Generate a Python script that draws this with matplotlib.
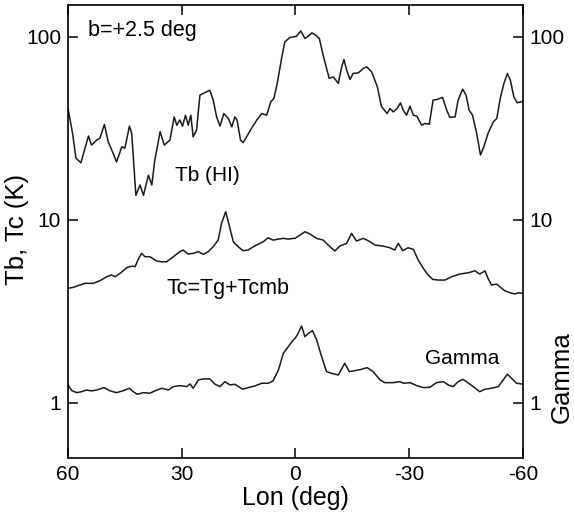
# Tb(HI), continuum Tc and gamma-ray profiles along longitude at b=+2.5 deg

import numpy as np
import matplotlib.pyplot as plt

plt.rcParams["font.family"] = ["Liberation Sans", "DejaVu Sans"]

# HI brightness temperature (K)
tb_lon = [60.0, 58.8, 57.9, 56.6, 55.8, 54.6, 53.8, 52.4, 51.6, 50.4, 49.4, 48.1,
          47.2, 45.8, 45.0, 43.8, 43.2, 42.1, 41.0, 40.1, 38.8, 37.9, 37.1, 35.7,
          34.6, 33.1, 32.0, 31.3, 30.5, 29.8, 29.0, 28.3, 27.6, 27.0, 26.1, 25.2,
          24.3, 22.6, 21.7, 20.8, 19.9, 18.9, 17.7, 16.8, 16.0, 15.4, 14.5, 13.8,
          12.9, 11.6, 10.2, 8.9, 7.6, 6.5, 5.7, 4.8, 3.6, 2.8, 1.5, 0.6,
          -0.3, -1.4, -2.5, -3.4, -4.3, -5.1, -6.3, -7.3, -8.9, -10.0, -11.3, -12.2,
          -12.8, -13.5, -14.4, -15.2, -16.6, -17.9, -18.8, -20.1, -21.6, -22.7, -24.2,
          -24.9, -25.8, -26.8, -27.7, -28.4, -29.3, -30.2, -31.1, -32.0, -33.3, -34.1,
          -35.3, -36.3, -37.4, -38.8, -39.9, -40.7, -42.1, -42.9, -44.1, -45.0, -45.8,
          -46.7, -47.8, -48.8, -49.7, -50.8, -52.2, -53.1, -54.1, -55.0, -55.9, -56.7,
          -57.6, -58.5, -59.7, -60.0]
tb_val = [40.6, 29.7, 21.7, 20.5, 23.5, 28.7, 25.6, 27.3, 27.9, 33.2, 26.7, 23.1,
          20.7, 25.1, 24.6, 32.5, 29.7, 13.6, 15.5, 13.6, 17.5, 15.5, 21.2, 30.3,
          25.6, 27.3, 36.5, 32.9, 35.1, 32.5, 37.3, 32.9, 37.3, 28.4, 30.9, 48.0,
          49.1, 51.1, 45.1, 36.5, 32.5, 38.1, 35.8, 32.2, 36.5, 35.1, 27.3, 26.4,
          28.4, 31.6, 35.1, 38.1, 37.3, 44.2, 46.1, 55.7, 77.7, 93.9, 99.2, 100.0,
          100.9, 107.8, 98.0, 100.9, 105.2, 103.1, 98.0, 79.4, 59.3, 60.4, 55.7, 68.6,
          75.2, 65.8, 58.5, 63.1, 63.6, 67.2, 68.6, 64.4, 53.3, 41.5, 38.1,
          40.6, 38.9, 40.6, 43.6, 39.8, 37.3, 41.8, 37.3, 36.9, 32.9, 33.6,
          33.3, 45.1, 45.5, 46.7, 39.8, 36.3, 36.5, 45.1, 51.8, 48.0, 39.8,
          37.3, 29.7, 22.6, 25.1, 29.7, 34.3, 35.8, 47.0, 55.7, 63.1, 58.0,
          47.0, 43.6, 44.2, 44.5]

# continuum temperature Tc = Tg + Tcmb (K)
tc_lon = [60.0, 58.6, 56.8, 55.5, 53.3, 51.6, 49.8, 48.5, 47.6, 46.3, 44.5, 43.2,
          42.3, 41.5, 40.6, 39.7, 38.4, 36.6, 35.3, 34.0, 32.2, 30.5, 29.6, 28.3,
          27.0, 25.6, 24.3, 23.0, 21.7, 20.4, 19.5, 18.4, 17.5, 16.4, 15.1, 13.8,
          12.5, 11.1, 9.8, 8.5, 7.2, 5.9, 4.5, 3.2, 1.9, 0.6, 0.1, -1.2, -2.5,
          -3.8, -5.6, -7.3, -9.1, -10.4, -11.7, -13.5, -14.8, -16.1, -17.9, -19.2,
          -21.0, -23.1, -24.9, -26.2, -27.1, -28.3, -29.7, -31.1, -32.4, -33.7,
          -35.0, -36.2, -37.6, -39.4, -41.2, -43.4, -45.6, -47.3, -48.6, -50.0,
          -50.8, -51.7, -53.1, -54.1, -55.2, -56.6, -57.9, -58.8, -59.7]
tc_val = [4.22, 4.27, 4.40, 4.49, 4.49, 4.64, 4.88, 4.99, 4.88, 5.09, 5.47, 5.58,
          5.54, 6.07, 6.55, 6.28, 6.28, 5.95, 5.89, 5.89, 6.28, 6.69, 6.83, 6.49,
          6.55, 6.69, 6.47, 6.69, 7.12, 7.74, 9.56, 11.06, 9.35, 7.58, 7.12, 6.77,
          6.83, 7.12, 7.36, 7.58, 7.97, 7.74, 7.84, 7.91, 7.84, 7.91, 7.91, 8.25, 8.60,
          8.36, 7.91, 7.74, 7.12, 6.75, 7.18, 7.43, 8.43, 7.65, 7.91, 7.68,
          7.27, 7.18, 7.03, 6.83, 7.43, 6.77, 7.03, 6.89, 6.02, 5.43,
          4.99, 4.72, 4.68, 4.68, 4.88, 5.05, 5.13, 5.26, 5.05, 5.25,
          4.78, 4.40, 4.45, 4.27, 4.09, 3.99, 3.93, 3.99, 3.96]

# gamma-ray intensity (relative)
gm_lon = [60.0, 59.0, 57.7, 56.4, 55.1, 53.8, 52.4, 50.5, 48.9, 47.2, 45.4, 43.8,
          42.8, 41.7, 40.1, 38.4, 37.1, 35.3, 33.5, 32.2, 30.5, 28.7, 27.8, 27.0,
          25.6, 24.3, 22.6, 21.2, 19.9, 18.6, 17.3, 16.0, 13.9, 12.5, 10.7, 8.9,
          7.2, 5.9, 4.5, 3.2, 1.9, 0.6, 0.1, -0.7, -1.6, -2.5, -3.4, -4.5, -5.6,
          -6.9, -8.2, -9.5, -11.3, -13.0, -14.2, -15.7, -17.4, -18.9, -20.5, -22.3,
          -23.6, -25.8, -27.5, -28.6, -30.2, -32.0, -33.7, -35.5, -37.2, -39.0,
          -40.3, -41.6, -42.9, -44.1, -45.1, -46.9, -48.6, -50.0, -51.7, -53.5,
          -54.8, -55.9, -57.0, -58.3, -59.7]
gm_val = [1.25, 1.163, 1.134, 1.148, 1.173, 1.159, 1.173, 1.208, 1.159, 1.134, 1.163, 1.198,
          1.148, 1.111, 1.134, 1.126, 1.159, 1.198, 1.173, 1.223, 1.239, 1.223, 1.265, 1.198,
          1.331, 1.348, 1.348, 1.26, 1.223, 1.302, 1.25, 1.26, 1.184, 1.208, 1.234, 1.276,
          1.276, 1.314, 1.509, 1.862, 2.023, 2.201, 2.248, 2.394, 2.625, 2.295, 2.394, 2.474, 2.201,
          1.784, 1.477, 1.447, 1.417, 1.642, 1.477, 1.496, 1.522, 1.553, 1.477, 1.331,
          1.286, 1.286, 1.302, 1.276, 1.286, 1.239, 1.208, 1.214, 1.286, 1.302,
          1.25, 1.223, 1.302, 1.342, 1.302, 1.223, 1.148, 1.184, 1.198, 1.223,
          1.331, 1.43, 1.359, 1.276, 1.265]

yticks = [1, 10, 100]
xticks = [60, 30, 0, -30, -60]

fig = plt.figure(figsize=(5.74, 5.15), dpi=100)
ax = fig.add_axes([0.1185, 0.1113, 0.7925, 0.8796])

for lon, val in [(tb_lon, tb_val), (tc_lon, tc_val), (gm_lon, gm_val)]:
    ax.plot(lon, val, color="#1a1a1a", lw=1.1)

ax.set_yscale("log")
ax.set_xlim(60, -60)
ax.set_ylim(0.5, 150)
ax.set_xticks(xticks)
ax.set_xticklabels([str(t) for t in xticks])
ax.set_yticks(yticks)
ax.set_yticklabels([str(t) for t in yticks])
ax.minorticks_off()
ax.tick_params(direction="in", length=7, width=1.1, labelsize=15, pad=5,
               top=True, right=True, labelright=True)
for s in ax.spines.values():
    s.set_linewidth(1.2)

ax.set_xlabel("Lon (deg)", fontsize=18, labelpad=2)
# axis titles placed by hand, the right one sits beside the gamma curve
ax.text(-0.112, 0.503, "Tb, Tc (K)", transform=ax.transAxes, rotation=90,
        ha="center", va="center", fontsize=18.5)
ax.text(1.086, 0.178, "Gamma", transform=ax.transAxes, rotation=90,
        ha="center", va="center", fontsize=18.5)

ax.text(0.044, 0.944, "b=+2.5 deg", transform=ax.transAxes, fontsize=15.5,
        ha="left", va="center")
ax.text(31.8, 17.5, "Tb (HI)", fontsize=15, ha="left", va="center")
ax.text(34.0, 4.22, "Tc=Tg+Tcmb", fontsize=15.5, ha="left", va="center")
ax.text(-34.1, 1.75, "Gamma", fontsize=15, ha="left", va="center")

fig.savefig("out.png", dpi=100)
